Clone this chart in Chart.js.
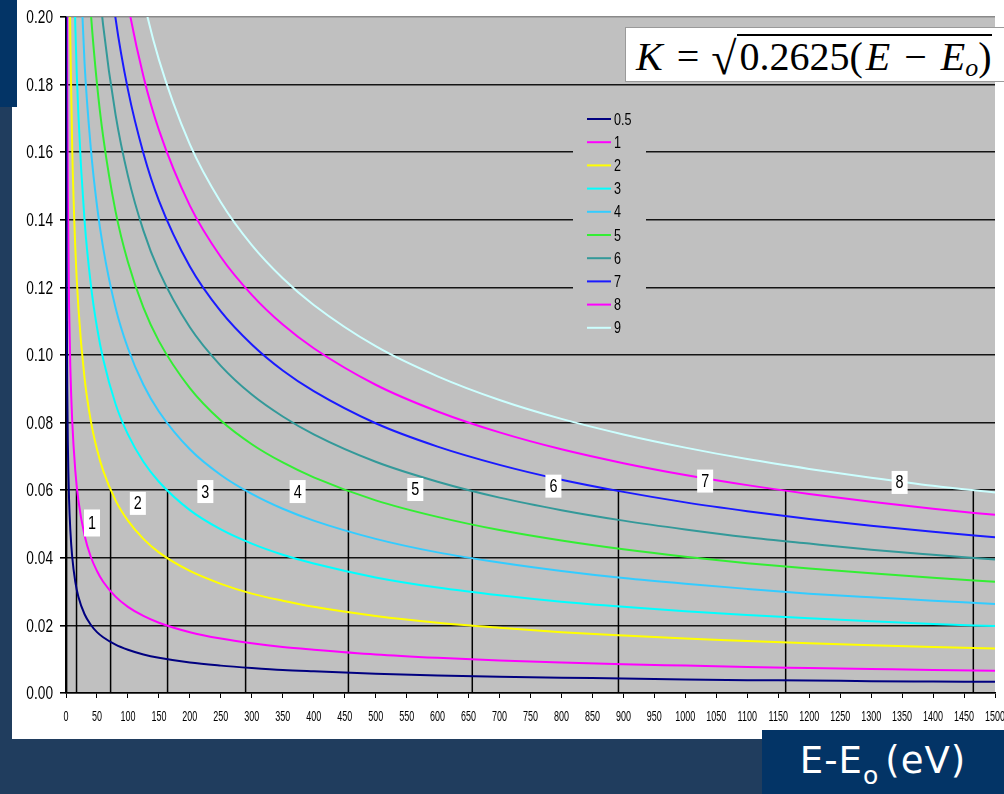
<!DOCTYPE html>
<html>
<head>
<meta charset="utf-8">
<script src="https://cdn.jsdelivr.net/npm/chart.js@4.4.1/dist/chart.umd.min.js"></script>
<style>
    html, body { margin: 0; padding: 0; }
    body { width: 1004px; height: 794px; background: #203d5e; position: relative; overflow: hidden; }
    #panel { position: absolute; left: 12px; top: 0; width: 992px; height: 739px; background: #fff; }
    #corner { position: absolute; left: 0; top: 0; width: 17px; height: 107px; background: #033466; }
    #formula {
        position: absolute; left: 625px; top: 27px; width: 385px; height: 55px;
        background: #fff; border: 1px solid #9a9a9a; box-sizing: border-box;
        font-family: 'Liberation Serif', 'DejaVu Serif', serif; font-size: 40px; color: #000;
        white-space: nowrap; padding-left: 10px; line-height: 54px; overflow: hidden;
    }
    #formula .op { margin: 0 14px; }
    #formula .rad { font-size: 46px; position: relative; top: 4px; margin-left: -2px; }
    #formula .ov { border-top: 2px solid #000; display: inline-block; line-height: 42px; padding-left: 3px; }
    #formula .e2 { margin-left: 3px; }
    #formula sub { font-size: 26px; font-style: italic; vertical-align: -6px; }
    #xtitle {
        position: absolute; left: 762px; top: 730px; width: 242px; height: 64px; background: #033466;
        color: #fff; font-family: 'DejaVu Sans', sans-serif; font-size: 37px; line-height: 62px;
        text-align: center; letter-spacing: 1px;
    }
    #xtitle sub { font-size: 25px; vertical-align: -11px; margin-right: 6px; }
</style>
</head>
<body>
<div id="panel"><canvas id="chart" width="992" height="739"></canvas></div>
<div id="corner"></div>
<div id="formula"><i>K</i><span class="op">=</span><span class="rad">√</span><span class="ov">0.2625(<i class="e2">E</i><span class="op">−</span><i>E</i><sub>o</sub>)</span></div>
<div id="xtitle">E-E<sub>o</sub>(eV)</div>
<script>
// energy above edge (eV)
const energy = [0.3, 0.5, 1, 2, 3, 5, 7, 10, 15, 20, 30, 40, 50, 60, 80, 100, 125, 150, 200, 250,
    300, 350, 400, 500, 600, 700, 800, 900, 1000, 1100, 1200, 1300, 1400, 1500];

const seriesNames = ['0.5', '1', '2', '3', '4', '5', '6', '7', '8', '9'];
const seriesColors = ['#000080', '#ff00ff', '#ffff00', '#00ffff', '#33ccff', '#33ee33', '#339999', '#1a1aff', '#ff00ff', '#ccffff'];

const r05 = [0.2328, 0.1803, 0.1275, 0.0902, 0.0736, 0.0570, 0.0482, 0.0403, 0.0329, 0.0285, 0.0233, 0.0202,
    0.0180, 0.0165, 0.0143, 0.0128, 0.0114, 0.0104, 0.0090, 0.0081, 0.0074, 0.0068, 0.0064, 0.0057, 0.0052,
    0.0048, 0.0045, 0.0043, 0.0040, 0.0038, 0.0037, 0.0035, 0.0034, 0.0033];
const r1 = [null, null, 0.2550, 0.1803, 0.1472, 0.1140, 0.0964, 0.0806, 0.0658, 0.0570, 0.0466, 0.0403,
    0.0361, 0.0329, 0.0285, 0.0255, 0.0228, 0.0208, 0.0180, 0.0161, 0.0147, 0.0136, 0.0128, 0.0114, 0.0104,
    0.0096, 0.0090, 0.0085, 0.0081, 0.0077, 0.0074, 0.0071, 0.0068, 0.0066];
const r2 = [null, null, null, null, null, 0.2281, 0.1928, 0.1613, 0.1317, 0.1140, 0.0931, 0.0806,
    0.0721, 0.0658, 0.0570, 0.0510, 0.0456, 0.0416, 0.0361, 0.0323, 0.0294, 0.0273, 0.0255, 0.0228, 0.0208,
    0.0193, 0.0180, 0.0170, 0.0161, 0.0154, 0.0147, 0.0141, 0.0136, 0.0132];
const r3 = [null, null, null, null, null, null, null, 0.2419, 0.1975, 0.1711, 0.1397, 0.1210,
    0.1082, 0.0988, 0.0855, 0.0765, 0.0684, 0.0625, 0.0541, 0.0484, 0.0442, 0.0409, 0.0383, 0.0342, 0.0312,
    0.0289, 0.0270, 0.0255, 0.0242, 0.0231, 0.0221, 0.0212, 0.0204, 0.0198];
const r4 = [null, null, null, null, null, null, null, null, null, 0.2281, 0.1862, 0.1613,
    0.1442, 0.1317, 0.1140, 0.1020, 0.0912, 0.0833, 0.0721, 0.0645, 0.0589, 0.0545, 0.0510, 0.0456, 0.0416,
    0.0386, 0.0361, 0.0340, 0.0323, 0.0308, 0.0294, 0.0283, 0.0273, 0.0263];
const r5 = [null, null, null, null, null, null, null, null, null, null, 0.2328, 0.2016,
    0.1803, 0.1646, 0.1425, 0.1275, 0.1140, 0.1041, 0.0902, 0.0806, 0.0736, 0.0682, 0.0638, 0.0570, 0.0521,
    0.0482, 0.0451, 0.0425, 0.0403, 0.0384, 0.0368, 0.0354, 0.0341, 0.0329];
const r6 = [null, null, null, null, null, null, null, null, null, null, null, null,
    0.2164, 0.1975, 0.1711, 0.1530, 0.1368, 0.1249, 0.1082, 0.0968, 0.0883, 0.0818, 0.0765, 0.0684, 0.0625,
    0.0578, 0.0541, 0.0510, 0.0484, 0.0461, 0.0442, 0.0424, 0.0409, 0.0395];
const r7 = [null, null, null, null, null, null, null, null, null, null, null, null,
    null, 0.2304, 0.1996, 0.1785, 0.1597, 0.1457, 0.1262, 0.1129, 0.1031, 0.0954, 0.0893, 0.0798, 0.0729,
    0.0675, 0.0631, 0.0595, 0.0564, 0.0538, 0.0515, 0.0495, 0.0477, 0.0461];
const r8 = [null, null, null, null, null, null, null, null, null, null, null, null,
    null, null, 0.2281, 0.2040, 0.1825, 0.1666, 0.1442, 0.1290, 0.1178, 0.1090, 0.1020, 0.0912, 0.0833,
    0.0771, 0.0721, 0.0680, 0.0645, 0.0615, 0.0589, 0.0566, 0.0545, 0.0527];
const r9 = [null, null, null, null, null, null, null, null, null, null, null, null,
    null, null, null, 0.2295, 0.2053, 0.1874, 0.1623, 0.1452, 0.1325, 0.1227, 0.1148, 0.1026, 0.0937,
    0.0867, 0.0811, 0.0765, 0.0726, 0.0692, 0.0663, 0.0637, 0.0613, 0.0593];

// vertical marker lines (energy, top of line)
const markerEnergy = [1, 17, 72, 164, 290, 456, 656, 892, 1162, 1465];
const markerTop = [0.110, 0.06, 0.06, 0.06, 0.06, 0.06, 0.06, 0.06, 0.06, 0.06];

// boxed numbers between the markers
const boxLabels = ['1', '2', '3', '4', '5', '6', '7', '8'];
const boxEnergy = [42, 116, 225, 374, 564, 787, 1032, 1346];
const boxK = [0.0503, 0.0561, 0.0596, 0.0596, 0.0602, 0.0612, 0.0627, 0.0623];

const yTicks = [0, 0.02, 0.04, 0.06, 0.08, 0.10, 0.12, 0.14, 0.16, 0.18, 0.20];

const allSeries = [r05, r1, r2, r3, r4, r5, r6, r7, r8, r9];
const sans = "'Liberation Sans', Arial, sans-serif";

const markerData = [];
markerEnergy.forEach((e, i) => {
    markerData.push({ x: e, y: 0 }, { x: e, y: markerTop[i] }, { x: e, y: null });
});

const datasets = allSeries.map((vals, i) => ({
    label: seriesNames[i],
    data: energy.map((e, j) => ({ x: e, y: vals[j] })),
    borderColor: seriesColors[i],
    borderWidth: 2,
    pointRadius: 0,
    cubicInterpolationMode: 'monotone',
    fill: false
}));
datasets.push({
    label: 'markers',
    data: markerData,
    borderColor: '#000',
    borderWidth: 1.5,
    pointRadius: 0,
    tension: 0,
    spanGaps: false
});

// squeezed text, like the narrow bitmap font of the original
function narrowText(ctx, txt, x, y, sx, align) {
    ctx.save();
    ctx.translate(x, y);
    ctx.scale(sx, 1);
    ctx.textAlign = align;
    ctx.fillText(txt, 0, 0);
    ctx.restore();
}

const plotBackground = {
    id: 'plotBackground',
    beforeDraw(chart) {
        const { ctx, chartArea } = chart;
        ctx.save();
        ctx.fillStyle = '#c0c0c0';
        ctx.fillRect(chartArea.left, chartArea.top, chartArea.right - chartArea.left, chartArea.bottom - chartArea.top);
        ctx.restore();
    }
};

const legendBox = {
    id: 'legendBox',
    beforeDatasetsDraw(chart) {
        const ctx = chart.ctx;
        ctx.save();
        ctx.fillStyle = '#c0c0c0';
        ctx.fillRect(561, 104, 73, 236);
        ctx.font = '17px ' + sans;
        ctx.textBaseline = 'middle';
        seriesNames.forEach((name, i) => {
            const y = 119 + i * 23.2;
            ctx.strokeStyle = seriesColors[i];
            ctx.lineWidth = 2;
            ctx.beginPath();
            ctx.moveTo(575, y);
            ctx.lineTo(599, y);
            ctx.stroke();
            ctx.fillStyle = '#000';
            narrowText(ctx, name, 602, y + 1, 0.74, 'left');
        });
        ctx.restore();
    }
};

const numberBoxes = {
    id: 'numberBoxes',
    afterDatasetsDraw(chart) {
        const { ctx, scales } = chart;
        ctx.save();
        ctx.font = '18px ' + sans;
        ctx.textBaseline = 'middle';
        boxLabels.forEach((txt, i) => {
            const cx = scales.x.getPixelForValue(boxEnergy[i]);
            const cy = scales.y.getPixelForValue(boxK[i]);
            const h = i === 0 ? 27 : 23;
            ctx.fillStyle = '#fff';
            ctx.fillRect(cx - 8, cy - h / 2, 16, h);
            ctx.fillStyle = '#000';
            narrowText(ctx, txt, cx, cy + 1, 0.8, 'center');
        });
        ctx.restore();
    }
};

const axisLabels = {
    id: 'axisLabels',
    afterDraw(chart) {
        const { ctx, scales } = chart;
        ctx.save();
        ctx.fillStyle = '#000';
        ctx.textBaseline = 'middle';
        ctx.font = '15.5px ' + sans;
        scales.x.ticks.forEach(t => {
            narrowText(ctx, String(t.value), scales.x.getPixelForValue(t.value), 717, 0.58, 'center');
        });
        ctx.font = '19px ' + sans;
        yTicks.forEach(v => {
            narrowText(ctx, v.toFixed(2), 41, scales.y.getPixelForValue(v) + 1, 0.72, 'right');
        });
        ctx.restore();
    }
};

new Chart(document.getElementById('chart').getContext('2d'), {
    type: 'line',
    data: { datasets: datasets },
    options: {
        responsive: false,
        devicePixelRatio: 1,
        animation: false,
        layout: { padding: { top: 17, right: 9, left: 0, bottom: 0 } },
        plugins: { legend: { display: false }, tooltip: { enabled: false } },
        scales: {
            x: {
                type: 'linear',
                min: 0,
                max: 1500,
                afterFit: scale => { scale.height = 46; },
                ticks: { stepSize: 50, callback: () => '', maxRotation: 0, autoSkip: false },
                grid: { drawOnChartArea: false, tickLength: 5, tickColor: '#000', color: '#000' },
                border: { color: '#000', width: 1.5 }
            },
            y: {
                min: 0,
                max: 0.2,
                afterFit: scale => { scale.width = 54; },
                afterBuildTicks: scale => { scale.ticks = yTicks.map(v => ({ value: v })); },
                ticks: { callback: () => '' },
                grid: {
                    color: c => (Math.abs(c.tick.value - 0.2) < 1e-9 ? '#8a8a8a' : '#141414'),
                    lineWidth: 1.6,
                    tickLength: 6,
                    tickColor: '#000'
                },
                border: { color: '#000', width: 1.5 }
            }
        }
    },
    plugins: [plotBackground, legendBox, numberBoxes, axisLabels]
});
</script>
</body>
</html>
